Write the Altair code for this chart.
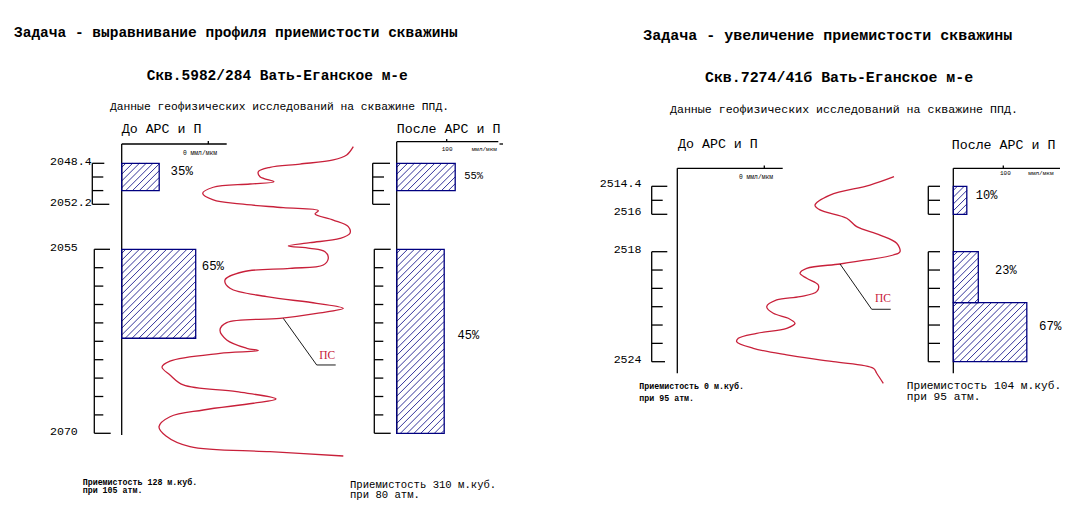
import altair as alt
import numpy as np
import pandas as pd

FONT = "Liberation Mono"
NAVY = "#000080"
RED = "#c8203a"

# ---------------- data: well 5982/284 (left) ----------------
L_MARK_DEPTHS = [2048.4, 2052.2, 2055, 2070]
L_TICKS_UPPER = [2048.4, 2049.67, 2050.93, 2052.2]
L_TICKS_LOWER = [2055, 2056.5, 2058, 2059.5, 2061, 2062.5, 2064, 2065.5, 2067, 2068.5, 2070]
L_BEFORE_TOP = [2048.4, 2055]
L_BEFORE_BOTTOM = [2050.93, 2062.25]
L_BEFORE_RATE = [75, 148]
L_BEFORE_SHARE = ["35%", "65%"]
L_BEFORE_SHARE_DEPTH = [2049.11, 2056.36]
L_AFTER_TOP = [2048.4, 2055]
L_AFTER_BOTTOM = [2050.93, 2070]
L_AFTER_RATE = [117, 95]
L_AFTER_SHARE = ["55%", "45%"]
L_AFTER_SHARE_DEPTH = [2049.58, 2061.99]
L_PS_SP = [203.3, 196.7, 183.3, 150, 120, 108.3, 110, 124, 100, 63.3, 52.7, 63.3, 90,
           133.3, 168.3, 165, 183.3, 198.3, 200, 190, 160, 138.3, 160, 175, 178.3, 173.3,
           140, 93.3, 75, 80, 116.7, 166.7, 193.3, 166.7, 130, 76.7, 70, 76.7, 96.7, 108.3,
           70, 20, 12, 20, 33.3, 86.7, 126, 103.3, 53.3, 20, 9, 16, 40, 120, 193.3]
L_PS_DEPTH = [2046.86, 2047.63, 2048.09, 2048.47, 2048.77, 2049.18, 2049.64, 2050.11, 2050.32,
              2050.62, 2051.18, 2051.80, 2052.17, 2052.41, 2052.60, 2052.80, 2053.18, 2053.59,
              2054.00, 2054.32, 2054.59, 2054.79, 2054.94, 2055.20, 2055.73, 2056.28, 2056.55,
              2056.83, 2057.50, 2058.18, 2058.86, 2059.40, 2059.81, 2060.22, 2060.63, 2060.98,
              2061.58, 2062.39, 2063.07, 2063.25, 2063.48, 2064.11, 2064.60, 2065.25, 2066.06,
              2066.61, 2067.20, 2067.55, 2068.10, 2068.65, 2069.46, 2070.22, 2071.09, 2071.50,
              2071.85]

# ---------------- data: well 7274/41б (right) ----------------
R_MARK_DEPTHS = [2514.4, 2516, 2518, 2524]
R_TICKS_UPPER = [2514.4, 2515.2, 2516]
R_TICKS_LOWER = [2518, 2519, 2520, 2521, 2522, 2523, 2524]
R_AFTER_TOP = [2514.4, 2518, 2520.78]
R_AFTER_BOTTOM = [2516, 2520.78, 2524]
R_AFTER_RATE = [27, 50, 147]
R_AFTER_SHARE = ["10%", "23%", "67%"]
R_AFTER_SHARE_DEPTH = [2514.9, 2519.0, 2522.05]
R_PS_SP = [164, 140, 100, 85, 90, 116.7, 126.7, 150, 166.7, 170, 163.3, 136.7, 110, 76.7, 70,
           76.7, 88.3, 86.7, 70, 46.7, 36.7, 43.3, 58.3, 65, 56.7, 26.7, 8.3, 6.7, 23.3, 56.7,
           103.3, 143.3, 146.7, 153.3]
R_PS_DEPTH = [2513.85, 2514.33, 2514.90, 2515.47, 2515.75, 2516.21, 2516.66, 2517.11, 2517.55,
              2518.00, 2518.18, 2518.45, 2518.67, 2518.91, 2519.18, 2519.45, 2519.82, 2520.18,
              2520.45, 2520.63, 2521.00, 2521.36, 2521.63, 2521.91, 2522.18, 2522.45, 2522.72,
              2522.91, 2523.27, 2523.63, 2524.00, 2524.36, 2524.63, 2525.18]

# ---------------- layout ----------------
L_PX = [163.3, 204.3, 249.3, 433.3]
R_PX = [186.3, 214.3, 251.7, 361.7]
PX_PER_UNIT = 0.5
L_BEFORE_X0, L_AFTER_X0 = 121.7, 396.7
R_BEFORE_X0, R_AFTER_X0 = 677.3, 953.3
L_PS_X0, R_PS_X0 = 150, 730
HATCH_STEP = 6.8

X = alt.Scale(domain=[8, 1063], range=[0, 1055], nice=False, zero=False)
YPX = alt.Scale(domain=[8, 503], range=[0, 495], nice=False, zero=False)
YL = alt.Scale(domain=L_MARK_DEPTHS, range=[p - 8 for p in L_PX], nice=False, zero=False)
YR = alt.Scale(domain=R_MARK_DEPTHS, range=[p - 8 for p in R_PX], nice=False, zero=False)


def rules(rows, ys, color="black", width=1.2):
    return alt.Chart(pd.DataFrame(rows)).mark_rule(color=color, strokeWidth=width).encode(
        x=alt.X("x:Q", scale=X, axis=None), x2="x2:Q",
        y=alt.Y("y:Q", scale=ys, axis=None), y2="y2:Q")


def texts(rows, ys, weight="normal", align="left", dy=0, font=FONT):
    return alt.Chart(pd.DataFrame(rows)).mark_text(
        font=font, fontWeight=weight, align=align, baseline="middle", dy=dy).encode(
        x=alt.X("x:Q", scale=X, axis=None), y=alt.Y("y:Q", scale=ys, axis=None),
        text="t:N", size=alt.Size("fs:Q", scale=None, legend=None),
        color=alt.Color("c:N", scale=None, legend=None))


def bracket(ticks, xl, first_end, last_end, mid_end):
    rows = [dict(x=xl, x2=xl, y=ticks[0], y2=ticks[-1])]
    for i, d in enumerate(ticks):
        xe = first_end if i == 0 else (last_end if i == len(ticks) - 1 else mid_end)
        rows.append(dict(x=xl, x2=xe, y=d, y2=d))
    return rows


def hatch(x0, x1, ytop, ybot):
    out = []
    c = x0 + ytop + HATCH_STEP * 0.6
    while c < x1 + ybot:
        xa = max(x0, c - ybot)
        xb = min(x1, c - ytop)
        if xb > xa:
            out.append(dict(x=xa, x2=xb, y=c - xa, y2=c - xb))
        c += HATCH_STEP
    return out


def bars(tops, bottoms, rates, x0, ys):
    df = pd.DataFrame(dict(y=tops, y2=bottoms, r=rates))
    df["x"] = x0
    df["x2"] = x0 + df["r"] * PX_PER_UNIT
    return alt.Chart(df).mark_rect(stroke=NAVY, strokeWidth=1.3, fillOpacity=0, fill="white").encode(
        x=alt.X("x:Q", scale=X, axis=None), x2="x2:Q",
        y=alt.Y("y:Q", scale=ys, axis=None), y2="y2:Q")


def bar_hatch(tops, bottoms, rates, x0, dom, rng):
    out = []
    for t, b, r in zip(tops, bottoms, rates):
        out += hatch(x0, x0 + r * PX_PER_UNIT, float(np.interp(t, dom, rng)), float(np.interp(b, dom, rng)))
    return out


def ps_line(sp, depth, x0, ys):
    df = pd.DataFrame(dict(x=[v + x0 for v in sp], y=depth, i=range(len(sp))))
    return alt.Chart(df).mark_line(color=RED, strokeWidth=1.3, interpolate="catmull-rom").encode(
        x=alt.X("x:Q", scale=X, axis=None), y=alt.Y("y:Q", scale=ys, axis=None), order="i:Q")


def share_labels(shares, depths, rates, x0, offs, ys, fs):
    rows = []
    for s, d, r, o, f in zip(shares, depths, rates, offs, fs):
        rows.append(dict(x=x0 + r * PX_PER_UNIT + o, y=d, t=s, fs=f, c="black"))
    return texts(rows, ys)


# ---------------- pixel (annotation) layer ----------------
hatch_rows = (bar_hatch(L_BEFORE_TOP, L_BEFORE_BOTTOM, L_BEFORE_RATE, L_BEFORE_X0, L_MARK_DEPTHS, L_PX)
              + bar_hatch(L_AFTER_TOP, L_AFTER_BOTTOM, L_AFTER_RATE, L_AFTER_X0, L_MARK_DEPTHS, L_PX)
              + bar_hatch(R_AFTER_TOP, R_AFTER_BOTTOM, R_AFTER_RATE, R_AFTER_X0, R_MARK_DEPTHS, R_PX))

frame_rows = [
    dict(x=121.7, x2=121.7, y=144, y2=435), dict(x=121.7, x2=226.7, y=144, y2=144),
    dict(x=208.3, x2=208.3, y=141, y2=144),
    dict(x=396.7, x2=396.7, y=141.7, y2=434), dict(x=396.7, x2=498.3, y=141.7, y2=141.7),
    dict(x=446.7, x2=446.7, y=139, y2=141.7), dict(x=499.5, x2=503, y=144, y2=144),
    dict(x=677.3, x2=677.3, y=168.3, y2=373.3), dict(x=677.3, x2=782.7, y=168.3, y2=168.3),
    dict(x=764.3, x2=764.3, y=165.5, y2=168.3),
    dict(x=953.3, x2=953.3, y=168.3, y2=373.3), dict(x=953.3, x2=1060, y=168.3, y2=168.3),
    dict(x=1003.3, x2=1003.3, y=165.5, y2=168.3),
]

bold_rows = [
    dict(x=14, y=33.3, t="Задача - выравнивание профиля приемистости скважины", fs=14.5, c="black"),
    dict(x=146.7, y=76, t="Скв.5982/284 Вать-Еганское м-е", fs=14.5, c="black"),
    dict(x=643.3, y=35, t="Задача - увеличение приемистости скважины", fs=15, c="black"),
    dict(x=705, y=78.3, t="Скв.7274/41б Вать-Еганское м-е", fs=14.9, c="black"),
    dict(x=82.7, y=482.7, t="Приемистость 128 м.куб.", fs=8.3, c="black"),
    dict(x=82.7, y=491, t="при 105 атм.", fs=8.3, c="black"),
    dict(x=639.3, y=386.7, t="Приемистость 0 м.куб.", fs=8.3, c="black"),
    dict(x=639.3, y=399, t="при 95 атм.", fs=8.3, c="black"),
]
normal_rows = [
    dict(x=110, y=106.7, t="Данные геофизических исследований на скважине ППД.", fs=11.3, c="black"),
    dict(x=670, y=110, t="Данные геофизических исследований на скважине ППД.", fs=11.6, c="black"),
    dict(x=121.7, y=129.3, t="До АРС и П", fs=13.3, c="black"),
    dict(x=396.7, y=129.3, t="После АРС и П", fs=13.3, c="black"),
    dict(x=678, y=144.3, t="До АРС и П", fs=13.3, c="black"),
    dict(x=951.7, y=145, t="После АРС и П", fs=13.3, c="black"),
    dict(x=183, y=153.3, t="0 ммл/мкм", fs=6.3, c="black"),
    dict(x=441.7, y=149, t="100", fs=6, c="black"),
    dict(x=471.7, y=149, t="ммл/мкм", fs=6, c="black"),
    dict(x=739, y=177.3, t="0 ммл/мкм", fs=6.3, c="black"),
    dict(x=1000, y=172.7, t="100", fs=6, c="black"),
    dict(x=1028.3, y=172.7, t="ммл/мкм", fs=6, c="black"),
    dict(x=350, y=484.5, t="Приемистость 310 м.куб.", fs=10.6, c="black"),
    dict(x=350, y=494.5, t="при 80 атм.", fs=10.6, c="black"),
    dict(x=906.7, y=386.2, t="Приемистость 104 м.куб.", fs=11.2, c="black"),
    dict(x=906.7, y=397, t="при 95 атм.", fs=11.2, c="black"),
]

ann = alt.layer(
    rules(hatch_rows, YPX, color=NAVY, width=0.8),
    rules(frame_rows, YPX, width=1.3),
    texts(bold_rows, YPX, weight="bold"),
    texts(normal_rows, YPX),
)

# ---------------- left well (depth layer) ----------------
left_brackets = (bracket(L_TICKS_UPPER, 92.3, 104.3, 109.3, 103.3)
                 + bracket(L_TICKS_LOWER, 94.3, 110, 110.7, 103.3)
                 + bracket(L_TICKS_UPPER, 372.7, 390, 390, 384)
                 + bracket(L_TICKS_LOWER, 374.3, 390.7, 390.7, 383.3))
left_labels = [dict(x=50, y=d, t=f"{d:g}", fs=11.6, c="black") for d in L_MARK_DEPTHS]
left_leader = [dict(x=283.3, x2=316.7, y=2060.63, y2=2064.43),
               dict(x=316.7, x2=335.7, y=2064.43, y2=2064.43)]

left = alt.layer(
    ps_line(L_PS_SP, L_PS_DEPTH, L_PS_X0, YL),
    rules(left_brackets, YL, width=1.3),
    rules(left_leader, YL, width=0.9),
    bars(L_BEFORE_TOP, L_BEFORE_BOTTOM, L_BEFORE_RATE, L_BEFORE_X0, YL),
    bars(L_AFTER_TOP, L_AFTER_BOTTOM, L_AFTER_RATE, L_AFTER_X0, YL),
    texts(left_labels, YL, dy=-1),
    share_labels(L_BEFORE_SHARE, L_BEFORE_SHARE_DEPTH, L_BEFORE_RATE,
                 L_BEFORE_X0, [11.4, 6], YL, [12.4, 12.4]),
    share_labels(L_AFTER_SHARE, L_AFTER_SHARE_DEPTH, L_AFTER_RATE,
                 L_AFTER_X0, [9, 13.4], YL, [10.5, 12]),
    texts([dict(x=319.3, y=2063.7, t="ПС", fs=11.5, c=RED)], YL, font="Liberation Serif"),
)

# ---------------- right well (depth layer) ----------------
right_brackets = (bracket(R_TICKS_UPPER, 651.7, 667.3, 667.3, 662.7)
                  + bracket(R_TICKS_LOWER, 651.7, 667.3, 665, 662.7)
                  + bracket(R_TICKS_UPPER, 928.3, 940, 940, 940)
                  + bracket(R_TICKS_LOWER, 928.3, 940, 940, 940))
right_labels = [dict(x=641.5, y=d, t=f"{d:g}", fs=11.6, c="black") for d in R_MARK_DEPTHS]
right_leader = [dict(x=840, x2=871.7, y=2518.67, y2=2521.14),
                dict(x=871.7, x2=890.7, y=2521.14, y2=2521.14)]

right = alt.layer(
    ps_line(R_PS_SP, R_PS_DEPTH, R_PS_X0, YR),
    rules(right_brackets, YR, width=1.3),
    rules(right_leader, YR, width=0.9),
    bars(R_AFTER_TOP, R_AFTER_BOTTOM, R_AFTER_RATE, R_AFTER_X0, YR),
    texts(right_labels, YR, align="right", dy=-2),
    share_labels(R_AFTER_SHARE, R_AFTER_SHARE_DEPTH, R_AFTER_RATE,
                 R_AFTER_X0, [9, 16.7, 12.3], YR, [12, 12, 12.4]),
    texts([dict(x=875, y=2520.6, t="ПС", fs=11.5, c=RED)], YR, font="Liberation Serif"),
)

chart = alt.layer(ann, left, right).resolve_scale(y="independent").properties(
    width=1055, height=495, padding=0, autosize=alt.AutoSizeParams(type="none"),
    background="white",
).configure_view(stroke=None)

chart.save("out.html", embed_options={"renderer": "svg", "actions": False})
